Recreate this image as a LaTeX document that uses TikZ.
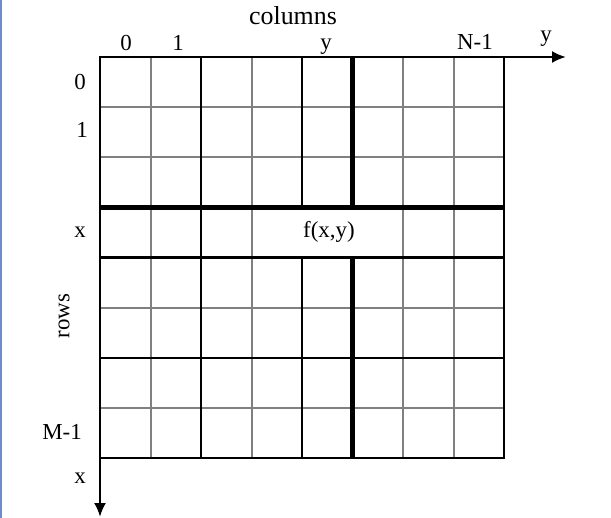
\documentclass[tikz,border=0pt]{standalone}
\usepackage{fontspec}
\setmainfont{Liberation Serif}
\usetikzlibrary{arrows.meta,positioning,calc}
\definecolor{gridgray}{RGB}{128,128,128}
\definecolor{edgeblue}{RGB}{110,140,200}
\begin{document}
\begin{tikzpicture}[x=1bp,y=-1bp,>={Latex[length=14bp,width=12bp]},
  softline/.style={draw=gridgray,line width=2bp},
  hardline/.style={draw=black,line width=2.2bp},
  boldline/.style={draw=black,line width=5bp},
  lab/.style={inner sep=0pt,font=\fontsize{23}{25}\selectfont}]
\useasboundingbox (0,0) rectangle (611,518);
\fill[edgeblue] (0,0) rectangle (2,518);
% grid lines
\foreach \j in {1,2,5,7} \draw[softline] (100,{57+50.1*\j}) -- (504,{57+50.1*\j});
\foreach \i in {1,3,6,7} \draw[softline] ({100+50.5*\i},57) -- ({100+50.5*\i},458);
\foreach \j in {4,6} \draw[hardline] (100,{57+50.1*\j}) -- (504,{57+50.1*\j});
\draw[hardline] (201,57) -- (201,458);
\draw[hardline] (302,57) -- (302,207) (302,257.4) -- (302,458);
\draw[hardline] (100,57) rectangle (504,458);
\draw[boldline] (100,207.3) -- (504,207.3);
\draw[boldline] (352.5,57) -- (352.5,207) (352.5,257.4) -- (352.5,458);
% axes
\coordinate (origin) at (100,57);
\coordinate (yend) at (566,57);
\coordinate (xend) at (100,517);
\draw[->,hardline] (origin) -- (yend);
\draw[->,hardline] (origin) -- (xend);
% labels
\node (cols) [lab,font=\fontsize{26}{28}\selectfont] at (293,16) {columns};
\node (c0) [lab] at (126,43) {0};
\node (c1) [lab] at (178,43) {1};
\node (cy) [lab] at (326,47) {y};
\node (cn) [lab] at (475,42) {N-1};
\node (ylab) [lab] at (546,39) {y};
\node (r0) [lab] at (80,82) {0};
\node (r1) [lab] at (82,130) {1};
\node (rx) [lab] at (80,232) {x};
\node (rows) [lab,rotate=90] at (64,316) {rows};
\node (rm) [lab] at (62,432) {M-1};
\node (xlab) [lab] at (80,478) {x};
\node (fxy) [lab] at (329,232) {f(x,y)};
\end{tikzpicture}
\end{document}
